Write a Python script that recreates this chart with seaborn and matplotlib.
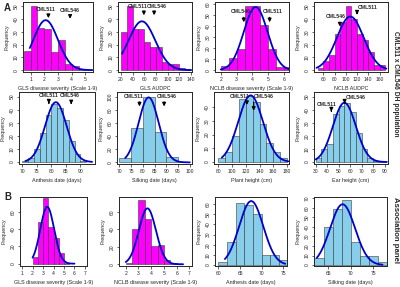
import numpy as np
import pandas as pd
import matplotlib
matplotlib.use("Agg")
import matplotlib.pyplot as plt
import seaborn as sns

MAGENTA = "#ff00ff"
SKY = "#87ceeb"
CURVE = "#0000cd"

# --- A: CML511 x CML546 DH population ---
gls_dh_counts = [15, 50, 33, 32, 14, 24, 5, 3, 1, 0]          # bins 0.5 wide from 0.5
gls_audpc_dh_counts = [30, 50, 32, 32, 22, 18, 18, 6, 5, 5, 2, 1]  # bins 10 wide from 20
nclb_dh_counts = [4, 11, 19, 58, 58, 41, 19, 3, 3]           # bins 0.5 wide from 2.0
nclb_audpc_dh_counts = [2, 7, 12, 28, 38, 50, 40, 28, 24, 14, 4, 4]  # bins 10 wide from 50
anthesis_dh_counts = [1, 3, 10, 22, 36, 44, 41, 32, 16, 6, 1]  # bins 2 wide from 70
silking_dh_counts = [7, 52, 100, 47, 8, 0]                    # bins 5 wide from 70
plant_ht_counts = [3, 7, 19, 46, 48, 44, 28, 14, 7, 3]        # bins 10 wide from 80
ear_ht_counts = [3, 10, 14, 37, 43, 45, 38, 22, 10, 3, 1, 1]  # bins 5 wide from 30

# --- B: association panel ---
gls_assoc_counts = [8, 48, 76, 43, 30, 13, 1]                 # bins 0.5 wide from 2.0
nclb_assoc_counts = [1, 40, 73, 52, 21, 22, 5, 1]             # bins 0.5 wide from 2.0
anthesis_assoc_counts = [3, 23, 61, 59, 50, 10, 10, 5]        # bins 2 wide from 60
silking_assoc_counts = [7, 40, 59, 68, 24, 9, 10, 3]          # bins 2 wide from 62

# fitted normal curves (mean, sd)
fit_means = [2.1, 56, 4.2, 108, 81.5, 82.5, 127, 55, 3.4, 3.7, 67.6, 68.2]
fit_sds = [0.9, 23, 0.75, 23.8, 3.7, 4.3, 18, 10, 0.66, 0.67, 2.8, 2.75]

# parent lines (name, x value)
parents_gls = [("CML511", 2.3), ("CML546", 3.88)]
parents_gls_audpc = [("CML511", 59.4), ("CML546", 77)]
parents_nclb = [("CML546", 3.45), ("CML511", 5.08)]
parents_nclb_audpc = [("CML546", 89.4), ("CML511", 120)]
parents_anthesis = [("CML511", 79.1), ("CML546", 86.8)]
parents_silking = [("CML511", 78.6), ("CML546", 89.1)]
parents_plant_ht = [("CML511", 121.6), ("CML546", 131.5)]
parents_ear_ht = [("CML511", 43.6), ("CML546", 55.2)]

W, H = 400, 287
sns.set_style("ticks")
plt.rcParams["font.family"] = ["Liberation Sans", "DejaVu Sans"]

fig = plt.figure(figsize=(W / 100, H / 100), dpi=100)

panels = [
    dict(c=gls_dh_counts, s=0.5, w=0.5, col=MAGENTA, xl="GLS disease severity (Scale 1-9)",
         xlim=(0.45, 5.55), xt=range(1, 6), ylim=(-1.5, 53.5), yt=range(0, 51, 10), cr=(0.95, 5.5),
         box=(23, 2, 93, 72), par=parents_gls, ay=[(0.89, 0.86, 0.73), (0.88, 0.86, 0.72)],
         lx=[2.07, 3.88]),
    dict(c=gls_audpc_dh_counts, s=20, w=10, col=MAGENTA, xl="GLS AUDPC",
         xlim=(15, 142), xt=range(20, 141, 20), ylim=(-1.5, 53.5), yt=range(0, 51, 10), cr=(22, 140),
         box=(118, 2, 192, 72), par=parents_gls_audpc, ay=[(0.94, 0.91, 0.77), (0.94, 0.91, 0.77)],
         lx=[49, 82]),
    dict(c=nclb_dh_counts, s=2.0, w=0.5, col=MAGENTA, xl="NCLB disease severity (Scale 1-9)",
         xlim=(1.64, 6.3), xt=range(2, 7), ylim=(-1.5, 62), yt=range(0, 61, 10), cr=(2.0, 6.4),
         box=(215, 2, 289, 72), par=parents_nclb, ay=[(0.87, 0.82, 0.67), (0.87, 0.82, 0.67)],
         lx=[3.23, 5.25]),
    dict(c=nclb_audpc_dh_counts, s=50, w=10, col=MAGENTA, xl="NCLB AUDPC",
         xlim=(43.5, 175), xt=range(60, 161, 20), ylim=(-1.5, 53.5), yt=range(0, 51, 10), cr=(48, 172),
         box=(314, 2, 388, 72), par=parents_nclb_audpc, ay=[(0.8, 0.74, 0.61), (0.92, 0.89, 0.78)],
         lx=[82.4, 139.4]),
    dict(c=anthesis_dh_counts, s=70, w=2, col=SKY, xl="Anthesis date (days)",
         xlim=(68.8, 95), xt=range(70, 91, 5), ylim=(-1.5, 53.5), yt=range(0, 51, 10), cr=(71, 94),
         box=(19, 92, 95, 164), par=parents_anthesis, ay=[(0.95, 0.89, 0.8), (0.95, 0.89, 0.79)],
         lx=[79.1, 86.3]),
    dict(c=silking_dh_counts, s=70, w=5, col=SKY, xl="Silking date (days)",
         xlim=(69, 101), xt=range(70, 101, 5), ylim=(-2.5, 107.5), yt=range(0, 101, 20), cr=(72.5, 100),
         box=(117, 92, 192, 164), par=parents_silking, ay=[(0.94, 0.9, 0.76), (0.94, 0.9, 0.76)],
         lx=[76, 90]),
    dict(c=plant_ht_counts, s=80, w=10, col=SKY, xl="Plant height (cm)",
         xlim=(73.6, 183), xt=range(80, 181, 20), ylim=(-1.5, 51), yt=range(0, 41, 10), cr=(85, 182),
         box=(214, 92, 289, 164), par=parents_plant_ht, ay=[(0.94, 0.9, 0.78), (0.94, 0.9, 0.7)],
         lx=[111, 146]),
    dict(c=ear_ht_counts, s=30, w=5, col=SKY, xl="Ear height (cm)",
         xlim=(28.5, 93), xt=range(30, 91, 10), ylim=(-1.5, 53.5), yt=range(0, 51, 10), cr=(30, 92),
         box=(314, 92, 388, 164), par=parents_ear_ht, ay=[(0.83, 0.78, 0.69), (0.93, 0.89, 0.8)],
         lx=[39.3, 65]),
    dict(c=gls_assoc_counts, s=2.0, w=0.5, col=MAGENTA, xl="GLS disease severity (Scale 1-9)",
         xlim=(0.8, 7.2), xt=range(1, 8), ylim=(-2.7, 77.6), yt=range(0, 61, 20), cr=(2.0, 6.0),
         box=(20, 197, 87, 266), par=[], ay=[], lx=[]),
    dict(c=nclb_assoc_counts, s=2.0, w=0.5, col=MAGENTA, xl="NCLB disease severity (Scale 1-9)",
         xlim=(1.47, 7.2), xt=range(2, 8), ylim=(-2, 77), yt=range(0, 61, 20), cr=(2.0, 6.5),
         box=(119, 197, 192, 266), par=[], ay=[], lx=[]),
    dict(c=anthesis_assoc_counts, s=60, w=2, col=SKY, xl="Anthesis date (days)",
         xlim=(59.2, 75.9), xt=range(60, 76, 5), ylim=(-1, 67), yt=range(0, 61, 10), cr=(61.5, 75.5),
         box=(215, 197, 287, 266), par=[], ay=[], lx=[]),
    dict(c=silking_assoc_counts, s=62, w=2, col=SKY, xl="Silking date (days)",
         xlim=(61.9, 78), xt=range(65, 76, 5), ylim=(-1, 71.5), yt=range(0, 71, 10), cr=(62.5, 77),
         box=(314, 197, 387, 266), par=[], ay=[], lx=[]),
]

for i, p in enumerate(panels):
    l, t, r, b = p["box"]
    ax = fig.add_axes([l / W, 1 - b / H, (r - l) / W, (b - t) / H])
    counts = [float(v) for v in p["c"]]
    edges = [p["s"] + p["w"] * k for k in range(len(counts) + 1)]
    centers = [(edges[k] + edges[k + 1]) / 2 for k in range(len(counts))]
    df = pd.DataFrame({"value": centers, "count": counts})
    sns.histplot(data=df, x="value", weights="count", bins=edges, ax=ax, color=p["col"], alpha=1,
                 edgecolor="#3a3a3a", linewidth=0.4)
    # fitted normal curve
    n = sum(counts)
    xs = np.linspace(p["cr"][0], p["cr"][1], 200)
    mu, sd = fit_means[i], fit_sds[i]
    ys = n * p["w"] * np.exp(-0.5 * ((xs - mu) / sd) ** 2) / (sd * np.sqrt(2 * np.pi))
    sns.lineplot(x=xs, y=ys, ax=ax, color=CURVE, lw=1.3, sort=False)

    ax.set_xlim(*p["xlim"])
    ax.set_ylim(*p["ylim"])
    ax.set_xticks(list(p["xt"]))
    ax.set_yticks(list(p["yt"]))
    ax.tick_params(labelsize=3.6, length=1.8, width=0.5, pad=1.5)
    for lab in ax.get_yticklabels():
        lab.set_rotation(90)
        lab.set_va("center")
    for sp in ax.spines.values():
        sp.set_linewidth(0.7)
        sp.set_visible(True)
    ax.set_xlabel(p["xl"], fontsize=3.9, labelpad=3.5)
    ax.set_ylabel("Frequency", fontsize=3.9, labelpad=3)

    trans = ax.get_xaxis_transform()
    for (name, xv), (ly, ytop, ytip), lxv in zip(p["par"], p["ay"], p["lx"]):
        ax.text(lxv, ly, name, transform=trans, fontsize=3.7, fontweight="bold",
                ha="center", va="center")
        ax.annotate("", xy=(xv, ytip), xytext=(xv, ytop), xycoords=trans, textcoords=trans,
                    arrowprops=dict(arrowstyle="-|>", lw=0.9, color="black", mutation_scale=5))

fig.text(4 / W, 1 - 8 / H, "A", fontsize=7, fontweight="bold", va="center")
fig.text(4 / W, 1 - 197 / H, "B", fontsize=7, fontweight="bold", va="center")
fig.text(395 / W, 1 - 84 / H, "CML511 x CML546 DH population", fontsize=4.8, fontweight="bold",
         rotation=-90, ha="center", va="center")
fig.text(395 / W, 1 - 230 / H, "Association panel", fontsize=5.6, fontweight="bold",
         rotation=-90, ha="center", va="center")

fig.savefig("out.png", dpi=100)
